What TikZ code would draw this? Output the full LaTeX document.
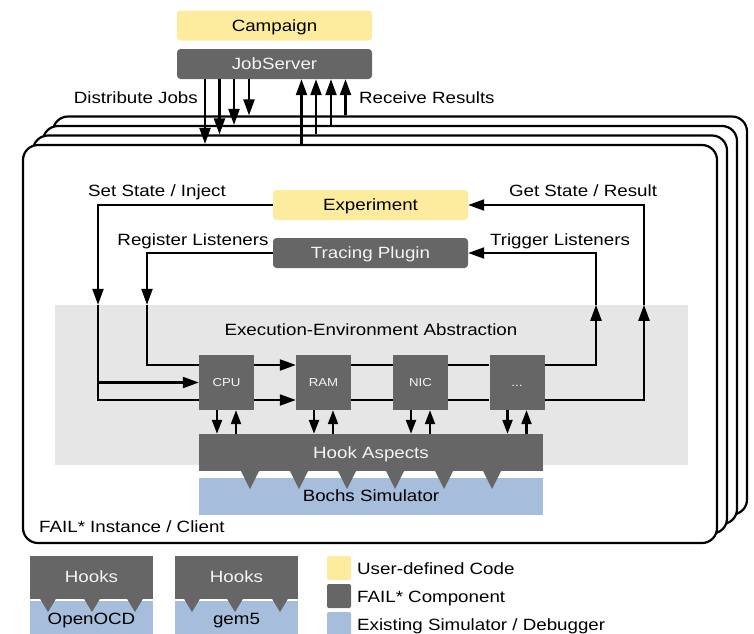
\documentclass[tikz,border=0pt]{standalone}
\usepackage{fontspec}
\setmainfont{Liberation Sans}[FakeStretch=1.15]
\usetikzlibrary{arrows.meta,calc}
\definecolor{yel}{HTML}{FDEB9E}
\definecolor{dk}{HTML}{666666}
\definecolor{blu}{HTML}{A6BDDB}
\definecolor{lg}{HTML}{E6E6E6}
\definecolor{wt}{HTML}{F4F4F4}
\newcommand\fsz{\fontsize{16.3}{18}\selectfont}
\newcommand\fsm{\fontsize{11.5}{13}\selectfont}
\begin{document}
\begin{tikzpicture}[x=1pt,y=-1pt,
  frame/.style={draw, line width=2.2pt, fill=white, rounded corners=15pt, minimum width=694pt, minimum height=398pt, inner sep=0pt},
  wbox/.style={rounded corners=3.5pt, minimum width=195pt, minimum height=30pt, inner sep=0pt, font=\fsz, text height=11.7pt, text depth=0pt},
  ubox/.style={wbox, fill=yel, text=black},
  fbox/.style={wbox, fill=dk, text=wt},
  comp/.style={fill=dk, text=wt, minimum width=55pt, minimum height=55pt, inner sep=0pt, font=\fsm, text height=8.2pt, text depth=0pt},
  lbl/.style={font=\fsz, inner sep=0pt, text height=11.7pt, text depth=0pt},
  ln/.style={line width=2.2pt},
  arr/.style={line width=2.2pt, -{Triangle[length=16pt 0,width=11pt 0]}},
  sarr/.style={line width=2.2pt, -{Triangle[length=14pt 0,width=10pt 0]}},
  sq/.style={minimum width=24pt, minimum height=24pt, inner sep=0pt, rounded corners=2pt}
]
\useasboundingbox (0,0) rectangle (754,633);

% stacked instance frames
\node[frame] (f4) at (400,315.5) {};
\node[frame] (f3) at (390,325) {};
\node[frame] (f2) at (380,334.5) {};
\node[frame] (f1) at (370,344) {};

% top boxes
\node[ubox] (camp) at (274.5,25.5) {Campaign};
\node[fbox] (js) at (274.5,64) {JobServer};

% distribute / receive
\coordinate (d1) at (205,0);
\coordinate (d2) at (219.5,0);
\coordinate (d3) at (234,0);
\coordinate (d4) at (249,0);
\coordinate (u1) at (301.5,0);
\coordinate (u2) at (316,0);
\coordinate (u3) at (331,0);
\coordinate (u4) at (345.5,0);
\draw[arr] (js.south -| d1) -- (f1.north -| d1);
\draw[arr] (js.south -| d2) -- (f2.north -| d2);
\draw[arr] (js.south -| d3) -- (f3.north -| d3);
\draw[arr] (js.south -| d4) -- (f4.north -| d4);
\draw[arr] (f1.north -| u1) -- (js.south -| u1);
\draw[arr] (f2.north -| u2) -- (js.south -| u2);
\draw[arr] (f3.north -| u3) -- (js.south -| u3);
\draw[arr] (f4.north -| u4) -- (js.south -| u4);
\node[lbl, anchor=east] (ldj) at (198,98) {Distribute Jobs};
\node[lbl, anchor=west] (lrr) at (359,98) {Receive Results};

% execution environment abstraction
\node[fill=lg, minimum width=633pt, minimum height=160pt, inner sep=0pt] (eea) at (371.5,385) {};
\node[lbl] (eeal) at (371,330) {Execution-Environment Abstraction};

\node[ubox] (exp) at (370.5,205) {Experiment};
\node[fbox] (tp) at (370.5,253) {Tracing Plugin};

\node[lbl] (lss) at (157,191) {Set State / Inject};
\node[lbl] (lrl) at (193,240) {Register Listeners};
\node[lbl] (lgs) at (583,191) {Get State / Result};
\node[lbl] (ltl) at (560,240) {Trigger Listeners};

\node[comp] (cpu) at (226.5,382.5) {CPU};
\node[comp] (ram) at (323.5,382.5) {RAM};
\node[comp] (nic) at (420.5,382.5) {NIC};
\node[comp] (dots) at (517,382.5) {...};

\coordinate (ya) at (0,365);
\coordinate (yc) at (0,400);
\coordinate (sx) at (98,0);
\coordinate (rx) at (147,0);
\coordinate (tx) at (596,0);
\coordinate (gx) at (644,0);

% set state / get state path
\draw[arr] (exp.west) -| (eea.north -| sx);
\draw[ln] (eea.north -| sx) -- (sx |- yc) -- (cpu.west |- yc);
\draw[arr] (sx |- cpu.west) -- (cpu.west);
\draw[arr] (cpu.east |- yc) -- (ram.west |- yc);
\draw[ln] (ram.east |- yc) -- (nic.west |- yc);
\draw[ln] (nic.east |- yc) -- (dots.west |- yc);
\draw[arr] (dots.east |- yc) -| (eea.north -| gx);
\draw[arr] (eea.north -| gx) |- (exp.east);

% register / trigger listeners path
\draw[arr] (tp.west) -| (eea.north -| rx);
\draw[ln] (eea.north -| rx) |- (cpu.west |- ya);
\draw[arr] (cpu.east |- ya) -- (ram.west |- ya);
\draw[ln] (ram.east |- ya) -- (nic.west |- ya);
\draw[ln] (nic.east |- ya) -- (dots.west |- ya);
\draw[arr] (dots.east |- ya) -| (eea.north -| tx);
\draw[arr] (eea.north -| tx) |- (tp.east);

% hook aspects and simulator
\node[fill=dk, text=wt, minimum width=344pt, minimum height=37pt, inner sep=0pt, font=\fsz, text height=11.7pt, text depth=0pt] (hook) at (371,452.5) {Hook Aspects};
\node[fill=blu, minimum width=344pt, minimum height=37pt, inner sep=0pt] (bochs) at (371,496.5) {};
\foreach \x in {250,299,347,395,444,492}
  \fill[dk] (\x-9.5,470) -- (\x+9.5,470) -- (\x,489) -- cycle;
\node[lbl] (bochsl) at (371,496) {Bochs Simulator};

\foreach \n in {cpu,ram,nic,dots} {
  \draw[sarr] ($(\n.south)+(-9.5,0)$) -- ($(hook.north -| \n.south)+(-9.5,0)$);
  \draw[sarr] ($(hook.north -| \n.south)+(9.5,0)$) -- ($(\n.south)+(9.5,0)$);
}

\node[lbl, anchor=west] (lfail) at (39,527) {FAIL* Instance / Client};

% legend: other backends
\node[fill=blu, minimum width=123pt, minimum height=38pt, inner sep=0pt] (ocd) at (91.5,620) {};
\node[fill=dk, text=wt, minimum width=123pt, minimum height=43pt, inner sep=0pt, font=\fsz, text height=11.7pt, text depth=0pt] (hk1) at (91.5,577) {Hooks};
\node[fill=blu, minimum width=123pt, minimum height=38pt, inner sep=0pt] (g5) at (236.5,620) {};
\node[fill=dk, text=wt, minimum width=123pt, minimum height=43pt, inner sep=0pt, font=\fsz, text height=11.7pt, text depth=0pt] (hk2) at (236.5,577) {Hooks};
\foreach \x in {48,92,135,192,235,280}
  \fill[dk] (\x-9,597) -- (\x+9,597) -- (\x,612) -- cycle;
\node[lbl] (ocdl) at (91.5,619) {OpenOCD};
\node[lbl] (g5l) at (236.5,619) {gem5};

% legend: colours
\node[sq, fill=yel] (ly) at (339,568) {};
\node[sq, fill=dk] (ld) at (339,596) {};
\node[sq, fill=blu] (lb) at (339,624) {};
\node[lbl, anchor=west] (lyl) at (357,569) {User-defined Code};
\node[lbl, anchor=west] (ldl) at (357,597) {FAIL* Component};
\node[lbl, anchor=west] (lbl2) at (357,625) {Existing Simulator / Debugger};
\end{tikzpicture}
\end{document}
